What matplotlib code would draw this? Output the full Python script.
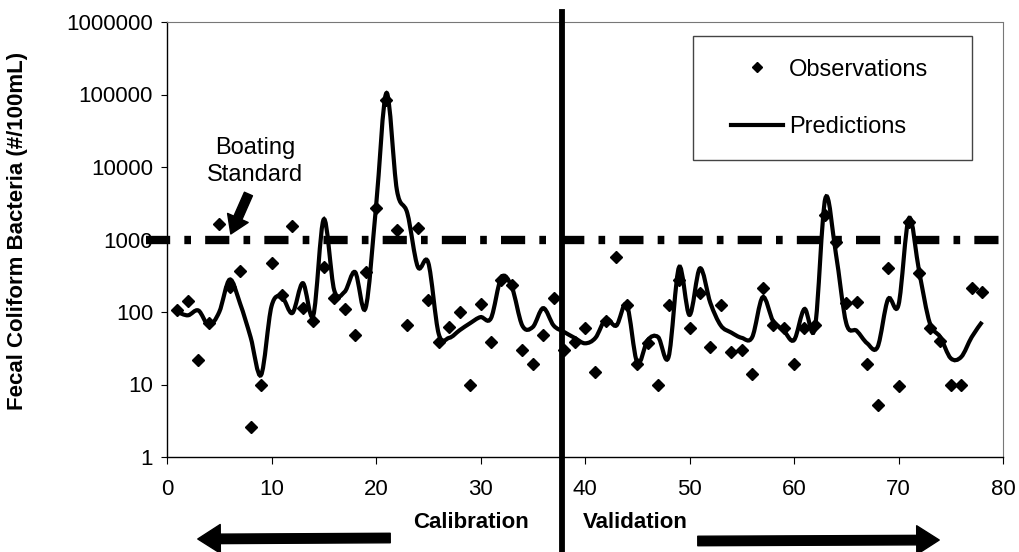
import numpy as np
import matplotlib
matplotlib.use("Agg")
import matplotlib.pyplot as plt
from matplotlib.path import Path
from matplotlib.patches import PathPatch, Rectangle
from matplotlib.lines import Line2D

plt.rcParams['font.family'] = ['Liberation Sans', 'DejaVu Sans']

# sample number
sample = list(range(1, 79))

observed = [105, 140, 22, 70, 1630, 220, 370, 2.6, 10, 475,
            170, 1540, 114, 75, 420, 155, 110, 48, 355, 2700,
            84000, 1350, 66, 1450, 146, 38, 62, 100, 10, 129,
            38, 275, 235, 30, 19, 48, 155, 30, 38, 60,
            15, 75, 575, 125, 19, 37, 10, 125, 275, 60,
            183, 33, 125, 28, 30, 14, 215, 66, 60, 19,
            60, 66, 2200, 930, 133, 137, 19, 5.2, 400, 9.5,
            1750, 350, 60, 40, 10, 10, 215, 190]

predicted = [100, 90, 105, 66, 100, 280, 130, 45, 13.5, 120,
             160, 97, 250, 90, 1900, 200, 190, 355, 113, 2800,
             105000, 4800, 2300, 420, 480, 50, 44, 56, 70, 85,
             82, 300, 220, 65, 62, 113, 65, 53, 44, 37,
             44, 80, 65, 125, 20, 41, 45, 24, 415, 91,
             400, 133, 65, 52, 44, 45, 160, 75, 56, 41,
             110, 60, 3700, 650, 70, 55, 37, 33, 150, 125,
             1970, 345, 70, 45, 23, 24, 45, 73]

standard = 1000
split_at = 37.8
x_ticks = [0, 10, 20, 30, 40, 50, 60, 70, 80]
y_ticks = [1, 10, 100, 1000, 10000, 100000, 1000000]
y_labels = ['1', '10', '100', '1000', '10000', '100000', '1000000']


def smooth_path(xs, ys):
    # Excel-style smoothed line: Catmull-Rom bezier in log space
    x = np.asarray(xs, float)
    y = np.log10(np.asarray(ys, float))
    n = len(x)
    verts = [(x[0], y[0])]
    codes = [Path.MOVETO]
    for i in range(n - 1):
        p0 = (x[i - 1], y[i - 1]) if i > 0 else (x[i], y[i])
        p1 = (x[i], y[i])
        p2 = (x[i + 1], y[i + 1])
        p3 = (x[i + 2], y[i + 2]) if i + 2 < n else p2
        c1 = (p1[0] + (p2[0] - p0[0]) / 6, p1[1] + (p2[1] - p0[1]) / 6)
        c2 = (p2[0] - (p3[0] - p1[0]) / 6, p2[1] - (p3[1] - p1[1]) / 6)
        verts += [c1, c2, p2]
        codes += [Path.CURVE4] * 3
    verts = [(vx, 10 ** vy) for vx, vy in verts]
    return Path(verts, codes)


fig = plt.figure(figsize=(10.19, 5.52), dpi=100)
ax = fig.add_axes([167 / 1019, 1 - 457 / 552, 836 / 1019, 435 / 552])
ax.set_yscale('log')
ax.set_xlim(0, 80)
ax.set_ylim(1, 1000000)

# boating standard
ax.plot([-2.0, 80], [standard, standard], color='black', lw=6.0,
        dashes=(2.9, 1.7, 0.8, 1.7), dash_capstyle='butt', clip_on=False, zorder=2)

ax.add_patch(PathPatch(smooth_path(sample, predicted), fill=False, lw=3.0,
                       ec='black', transform=ax.transData, zorder=3))
ax.plot(sample, observed, 'D', color='black', ms=6.6, zorder=4)

# calibration / validation split
ax.plot([split_at, split_at], [-0.22, 1.023], color='black', lw=4.2,
        transform=ax.get_xaxis_transform(), clip_on=False, zorder=5)

ax.set_xticks(x_ticks)
ax.set_yticks(y_ticks)
ax.set_yticklabels(y_labels)
ax.yaxis.set_minor_locator(matplotlib.ticker.NullLocator())
ax.tick_params(axis='both', labelsize=16, direction='out', width=0.8)
ax.tick_params(axis='y', length=4, pad=6)
ax.tick_params(axis='x', length=5, pad=11)
for s in ['top', 'right']:
    ax.spines[s].set_linestyle((0, (1, 1)))
    ax.spines[s].set_color('#777777')
    ax.spines[s].set_linewidth(0.8)
for s in ['left', 'bottom']:
    ax.spines[s].set_linewidth(1.0)

ax.set_ylabel('Fecal Coliform Bacteria (#/100mL)', fontsize=16, fontweight='bold')
ax.yaxis.set_label_coords(-0.166, 0.52)

# legend
ax.add_patch(Rectangle((0.629, 0.683), 0.334, 0.285, transform=ax.transAxes,
                       fill=False, ec='#444444', lw=1.0, zorder=6))
handles = [Line2D([], [], ls='none', marker='D', color='black', ms=5),
           Line2D([], [], color='black', lw=3.0)]
ax.legend(handles, ['Observations', 'Predictions'], loc='upper left',
          bbox_to_anchor=(0.675, 0.916), frameon=False, fontsize=17,
          borderpad=0, borderaxespad=0, handlelength=2.2, handletextpad=0.25,
          labelspacing=1.52)

ax.text(8.4, 10 ** 4.08, 'Boating\nStandard', ha='center', va='center',
        fontsize=17, linespacing=1.3)
ax.annotate('', xy=(6.0, 1100), xytext=(7.9, 4600),
            arrowprops=dict(arrowstyle='simple,head_length=0.7,head_width=0.9,tail_width=0.35',
                            fc='black', ec='black', mutation_scale=18))

fig.text(471 / 1019, 1 - 522 / 552, 'Calibration', ha='center', va='center',
         fontsize=16, fontweight='bold')
fig.text(635 / 1019, 1 - 522 / 552, 'Validation', ha='center', va='center',
         fontsize=16, fontweight='bold')
arrow_kw = dict(arrowstyle='simple,head_length=0.9,head_width=1.15,tail_width=0.38',
                fc='black', ec='black', mutation_scale=18)
ax.annotate('', xy=(195 / 1019, 1 - 539 / 552), xytext=(393 / 1019, 1 - 538 / 552),
            xycoords='figure fraction', textcoords='figure fraction',
            arrowprops=arrow_kw, annotation_clip=False)
ax.annotate('', xy=(942 / 1019, 1 - 540 / 552), xytext=(695 / 1019, 1 - 541 / 552),
            xycoords='figure fraction', textcoords='figure fraction',
            arrowprops=arrow_kw, annotation_clip=False)

fig.savefig('out.png', dpi=100)
